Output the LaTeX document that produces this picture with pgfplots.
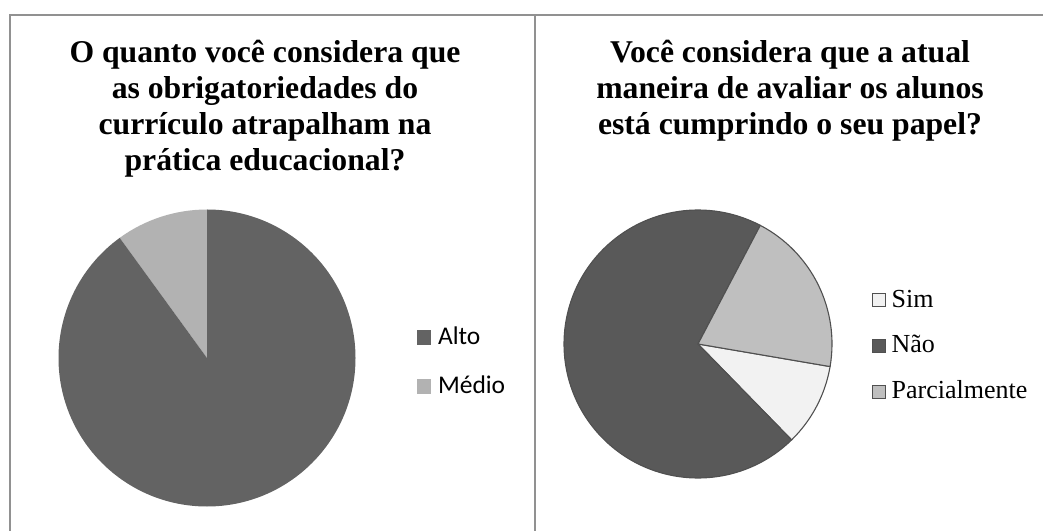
\documentclass[border=0pt]{standalone}
\usepackage{fontspec}
\setmainfont{Liberation Serif}
\newfontfamily\carlito{Carlito}
\usepackage{pgfplots}
\pgfplotsset{compat=1.18}
\definecolor{alto}{RGB}{99,99,99}
\definecolor{medio}{RGB}{178,178,178}
\definecolor{sim}{RGB}{242,242,242}
\definecolor{nao}{RGB}{89,89,89}
\definecolor{parc}{RGB}{191,191,191}
\definecolor{edge}{RGB}{80,80,80}
\definecolor{frame}{RGB}{145,145,145}
% slice: start angle, percent (clockwise), colour, radius(pt), extra options
\newcommand{\slice}[5]{%
  \filldraw[fill=#3,#5] (axis cs:0,0) -- (axis cs:{#4*cos(#1)},{#4*sin(#1)})
    arc[start angle=#1, end angle={#1-3.6*#2}, radius=#4pt] -- cycle;}
\begin{document}
\begin{tikzpicture}[x=1pt,y=1pt]
\path[use as bounding box] (0,0) rectangle (1043,530);
\fill[white] (0,0) rectangle (1043,530);
% panel frames
\draw[frame, line width=1.3pt] (10,-5) -- (10,515) -- (1050,515);
\draw[frame, line width=1.3pt] (535,-5) -- (535,515);
% titles
\begin{scope}[every node/.style={anchor=base, inner sep=0pt, font=\bfseries\fontsize{31.7}{36}\selectfont}]
\node at (265,467) {O quanto você considera que};
\node at (265,431) {as obrigatoriedades do};
\node at (265,395) {currículo atrapalham na};
\node at (265,359) {prática educacional?};
\node at (790,467) {Você considera que a atual};
\node at (790,431) {maneira de avaliar os alunos};
\node at (790,395) {está cumprindo o seu papel?};
\end{scope}
% left pie: Alto 90, Medio 10
\begin{axis}[at={(207pt,172pt)}, anchor=origin, x=1pt, y=1pt,
  xmin=-150, xmax=150, ymin=-150, ymax=150, hide axis, clip=false,
  legend style={draw=none, fill=none, inner sep=0pt, outer sep=0pt,
    at={(axis cs:210,200-172)}, anchor=north west,
    font=\carlito\fontsize{25.5}{28}\selectfont,
    nodes={inner sep=0pt, text height=15pt, text depth=0pt},
    row sep=34pt, column sep=7pt},
  legend cell align=left,
  legend image code/.code={\fill[#1] (0pt,-7.5pt) rectangle (14pt,7.5pt);}]
\slice{126}{10}{medio}{148.5}{draw=none}
\slice{90}{90}{alto}{148.5}{draw=none}
\addlegendimage{fill=alto, draw=none}
\addlegendentry{Alto}
\addlegendimage{fill=medio, draw=none}
\addlegendentry{Médio}
\end{axis}
% right pie: Sim 10, Nao 70, Parcialmente 20
\begin{axis}[at={(698pt,186pt)}, anchor=origin, x=1pt, y=1pt,
  xmin=-150, xmax=150, ymin=-150, ymax=150, hide axis, clip=false,
  legend style={draw=none, fill=none, inner sep=0pt, outer sep=0pt,
    at={(axis cs:872-698,236.7-186)}, anchor=north west,
    font=\fontsize{26}{29}\selectfont,
    nodes={inner sep=0pt, text height=13.4pt, text depth=0pt},
    row sep=31.6pt, column sep=5.5pt},
  legend cell align=left,
  legend image code/.code={\draw[#1] (0pt,-6.5pt) rectangle (13pt,6.5pt);}]
\slice{-9.7}{10}{sim}{134}{draw=edge, line width=1.1pt, line join=round}
\slice{-45.7}{70}{nao}{134}{draw=edge, line width=1.1pt, line join=round}
\slice{62.3}{20}{parc}{134}{draw=edge, line width=1.1pt, line join=round}
\addlegendimage{fill=sim, draw=edge, line width=1.1pt}
\addlegendentry{Sim}
\addlegendimage{fill=nao, draw=edge, line width=1.1pt}
\addlegendentry{Não}
\addlegendimage{fill=parc, draw=edge, line width=1.1pt}
\addlegendentry{Parcialmente}
\end{axis}
\end{tikzpicture}
\end{document}
